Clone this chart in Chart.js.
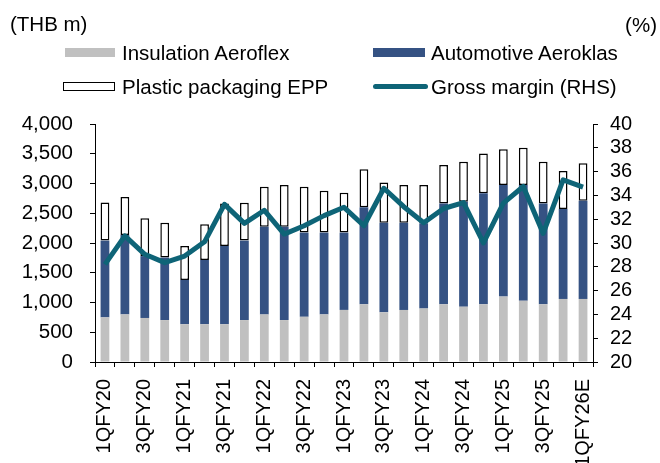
<!DOCTYPE html>
<html>
<head>
<meta charset="utf-8">
<script src="https://cdn.jsdelivr.net/npm/chart.js@4.4.0/dist/chart.umd.min.js"></script>
<style>
    html, body { margin: 0; padding: 0; background: #fff; }
    #wrap { position: relative; width: 660px; height: 463px; font-family: "Liberation Sans", Arial, sans-serif; color: #000; }
    #wrap canvas { position: absolute; left: 0; top: 0; }
    .txt { position: absolute; font-size: 20.5px; line-height: 20px; white-space: nowrap; }
    .sw { position: absolute; box-sizing: border-box; }
</style>
</head>
<body>
<div id="wrap">
    <canvas id="chart" width="660" height="463"></canvas>
    <div class="txt" style="left:10px; top:14px;">(THB m)</div>
    <div class="txt" style="right:3px; top:15px;">(%)</div>

    <div class="sw" style="left:65px; top:48px; width:50px; height:9px; background:#c0c0c0;"></div>
    <div class="txt" style="left:122px; top:43px;">Insulation Aeroflex</div>
    <div class="sw" style="left:373px; top:48px; width:52px; height:9px; background:#355283;"></div>
    <div class="txt" style="left:431px; top:43px;">Automotive Aeroklas</div>

    <div class="sw" style="left:63px; top:82px; width:52px; height:9px; background:#fff; border:1.5px solid #000;"></div>
    <div class="txt" style="left:122px; top:77px;">Plastic packaging EPP</div>
    <div class="sw" style="left:373px; top:84px; width:55px; height:5px; background:#0e6477; border-radius:3px;"></div>
    <div class="txt" style="left:431px; top:77px;">Gross margin (RHS)</div>
</div>
<script>
// quarters, only every other one is labelled on the axis
const quarters = [
    '1QFY20', '2QFY20', '3QFY20', '4QFY20',
    '1QFY21', '2QFY21', '3QFY21', '4QFY21',
    '1QFY22', '2QFY22', '3QFY22', '4QFY22',
    '1QFY23', '2QFY23', '3QFY23', '4QFY23',
    '1QFY24', '2QFY24', '3QFY24', '4QFY24',
    '1QFY25', '2QFY25', '3QFY25', '4QFY25',
    '1QFY26E'
];

// revenue by segment (THB m)
const insulationAeroflex = [750, 800, 740, 705, 635, 635, 635, 705, 800, 705, 760, 800, 875, 970, 835, 875, 900, 970, 930, 970, 1100, 1030, 970, 1060, 1060];
const automotiveAeroklas = [1290, 1335, 1040, 1050, 745, 1080, 1315, 1335, 1475, 1570, 1415, 1375, 1300, 1630, 1505, 1465, 1430, 1695, 1765, 1865, 1875, 1945, 1695, 1510, 1650];
const plasticPackagingEPP = [640, 640, 635, 585, 570, 600, 715, 635, 670, 700, 770, 705, 670, 640, 675, 635, 645, 645, 670, 670, 600, 625, 700, 640, 630];

// gross margin (%), right axis
const grossMargin = [28.2, 30.6, 29.05, 28.35, 28.9, 30.1, 33.25, 31.65, 32.75, 30.75, 31.45, 32.3, 33.0, 31.45, 34.6, 33.05, 31.7, 32.9, 33.4, 30.0, 33.35, 34.75, 30.8, 35.3, 34.7];

const FONT = { family: '"Liberation Sans", Arial, sans-serif', size: 20 };

const axisGrid = {
    display: true,
    drawOnChartArea: false,
    drawTicks: true,
    tickLength: 5,
    color: '#000',
    lineWidth: 1
};
const axisBorder = { display: true, color: '#000', width: 1 };

const ctx = document.getElementById('chart').getContext('2d');

new Chart(ctx, {
    type: 'bar',
    data: {
        labels: quarters,
        datasets: [
            {
                type: 'line',
                label: 'Gross margin (RHS)',
                data: grossMargin,
                yAxisID: 'y1',
                borderColor: '#0e6477',
                borderWidth: 5,
                pointRadius: 0,
                tension: 0,
                borderJoinStyle: 'round',
                order: 0
            },
            {
                label: 'Insulation Aeroflex',
                data: insulationAeroflex,
                backgroundColor: '#c0c0c0',
                borderWidth: 0,
                yAxisID: 'y',
                order: 1
            },
            {
                label: 'Automotive Aeroklas',
                data: automotiveAeroklas,
                backgroundColor: '#355283',
                borderWidth: 0,
                yAxisID: 'y',
                order: 1
            },
            {
                label: 'Plastic packaging EPP',
                data: plasticPackagingEPP,
                backgroundColor: '#ffffff',
                borderColor: '#000000',
                borderWidth: 1.5,
                borderSkipped: false,
                yAxisID: 'y',
                order: 1
            }
        ]
    },
    options: {
        responsive: false,
        animation: false,
        devicePixelRatio: 1,
        datasets: {
            bar: { barPercentage: 0.44, categoryPercentage: 1 }
        },
        layout: { padding: { top: 124, left: 0, right: 0, bottom: 0 } },
        plugins: {
            legend: { display: false },
            tooltip: { enabled: false }
        },
        scales: {
            x: {
                stacked: true,
                offset: true,
                grid: { ...axisGrid, offset: true },
                border: axisBorder,
                ticks: {
                    autoSkip: false,
                    maxRotation: 90,
                    minRotation: 90,
                    padding: 12,
                    color: '#000',
                    font: FONT,
                    callback: function (value, index) {
                        return index % 2 === 0 ? this.getLabelForValue(value) : '';
                    }
                },
                afterFit: scale => { scale.height = 101; }
            },
            y: {
                stacked: true,
                position: 'left',
                min: 0,
                max: 4000,
                grid: axisGrid,
                border: axisBorder,
                ticks: {
                    stepSize: 500,
                    padding: 17,
                    color: '#000',
                    font: { ...FONT, size: 20.5 },
                    callback: v => v.toLocaleString('en-US')
                },
                afterFit: scale => { scale.width = 95; }
            },
            y1: {
                position: 'right',
                min: 20,
                max: 40,
                grid: axisGrid,
                border: axisBorder,
                ticks: {
                    stepSize: 2,
                    autoSkip: false,
                    padding: 12,
                    color: '#000',
                    font: FONT
                },
                afterFit: scale => { scale.width = 67; }
            }
        }
    }
});
</script>
</body>
</html>
